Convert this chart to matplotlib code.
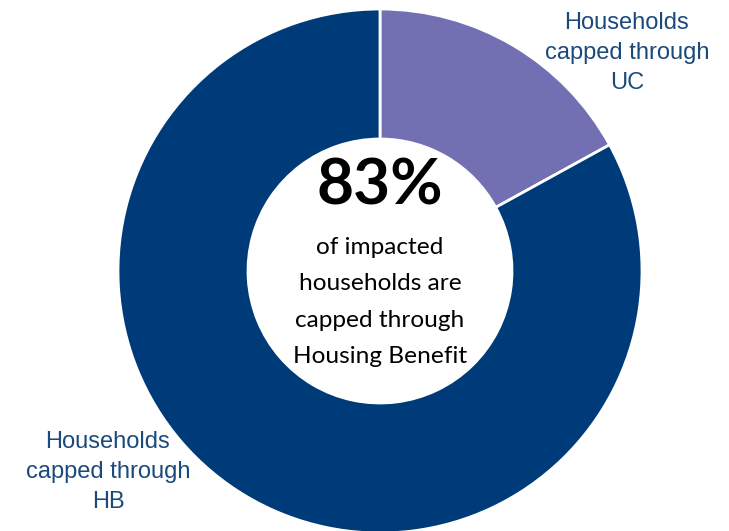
import matplotlib.pyplot as plt

# share of households hit by the benefit cap, by route
labels = ["Households\ncapped through\nUC", "Households\ncapped through\nHB"]
shares = [17, 83]
colors = ["#7270B2", "#003B79"]

headline = "83%"
caption = "of impacted\nhouseholds are\ncapped through\nHousing Benefit"

W, H = 729, 531
fig = plt.figure(figsize=(W / 100, H / 100), dpi=100)
ax = fig.add_axes([0, 0, 1, 1])

cx, cy = 380, H - 271
ax.pie(shares, colors=colors, startangle=90, counterclock=False,
       center=(cx, cy), radius=262, frame=True,
       wedgeprops=dict(width=130, edgecolor="white", linewidth=2))
ax.set_xlim(0, W)
ax.set_ylim(0, H)
ax.set_aspect("equal")
ax.axis("off")

label_color = "#1A4A7C"
ax.text(627, H - 53, labels[0], ha="center", va="center", fontsize=17,
        family="Liberation Sans", color=label_color, linespacing=1.45)
ax.text(108, H - 472, labels[1], ha="center", va="center", fontsize=17,
        family="Liberation Sans", color=label_color, linespacing=1.45)

ax.text(cx, H - 186, headline, ha="center", va="center", fontsize=46,
        family="Lato", weight="bold", color="black")
ax.text(cx, H - 302, caption, ha="center", va="center", fontsize=17.6,
        family="Lato", color="black", linespacing=1.9)

fig.savefig("out.png", dpi=100)
